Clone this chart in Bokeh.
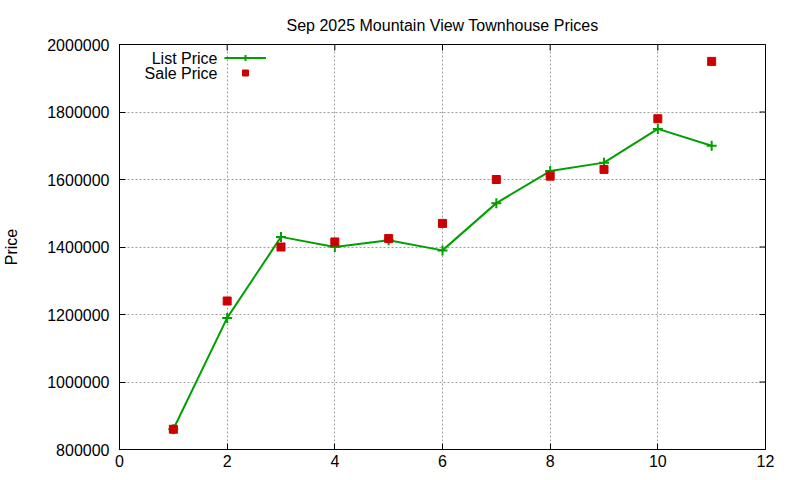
from math import pi

from bokeh.plotting import figure
from bokeh.models import FixedTicker, NumeralTickFormatter, Legend, LegendItem, Label, Range1d
from bokeh.embed import file_html
from bokeh.resources import INLINE

# data
month_day = [1, 2, 3, 4, 5, 6, 7, 8, 9, 10, 11]
list_price = [860000, 1190000, 1430000, 1400000, 1420000, 1390000,
              1530000, 1625000, 1650000, 1750000, 1700000]
sale_price = [860000, 1240000, 1400000, 1415000, 1425000, 1470000,
              1600000, 1610000, 1630000, 1780000, 1950000]
x_ticks = [0, 2, 4, 6, 8, 10, 12]
y_ticks = [800000, 1000000, 1200000, 1400000, 1600000, 1800000, 2000000]

FONT = "Liberation Sans"
GREEN = "#00a000"
RED = "#cc0000"

p = figure(width=800, height=480, title="Sep 2025 Mountain View Townhouse Prices",
           x_range=Range1d(x_ticks[0], x_ticks[-1]), y_range=Range1d(y_ticks[0], y_ticks[-1]),
           output_backend="svg", toolbar_location=None,
           min_border_left=119, min_border_right=35, min_border_top=44, min_border_bottom=31)

p.title.align = "center"
p.title.text_font = FONT
p.title.text_font_size = "16px"
p.title.text_font_style = "normal"
p.title.text_color = "black"
p.title.standoff = 21

p.outline_line_color = "black"
p.outline_line_width = 1

# axes: ticks inward, like gnuplot
for ax in [p.xaxis[0], p.yaxis[0]]:
    ax.major_tick_in = 6
    ax.major_tick_out = 0
    ax.minor_tick_line_color = None
    ax.axis_line_color = "black"
    ax.major_tick_line_color = "black"
    ax.major_label_text_font = FONT
    ax.major_label_text_font_size = "16px"
    ax.major_label_text_color = "black"

p.xaxis.ticker = FixedTicker(ticks=x_ticks)
p.yaxis.ticker = FixedTicker(ticks=y_ticks)
p.yaxis.formatter = NumeralTickFormatter(format="0")
p.xaxis.major_label_standoff = 5
p.yaxis.major_label_standoff = 10

p.yaxis.axis_label = "Price"
p.yaxis.axis_label_text_font = FONT
p.yaxis.axis_label_text_font_size = "16px"
p.yaxis.axis_label_text_font_style = "normal"
p.yaxis.axis_label_text_color = "black"
p.yaxis.axis_label_standoff = 24

p.grid.grid_line_color = "#a0a0a0"
p.grid.grid_line_dash = "2 2"
p.grid.grid_line_width = 1

# mirrored inward ticks on top and right (half of each dash is clipped by the frame)
p.scatter(x_ticks, [y_ticks[-1]] * len(x_ticks), marker="dash", angle=pi / 2, size=12,
          line_color="black", line_width=1)
p.scatter([x_ticks[-1]] * len(y_ticks), y_ticks, marker="dash", size=12,
          line_color="black", line_width=1)

l_line = p.line(month_day, list_price, line_color=GREEN, line_width=2)
l_pts = p.scatter(month_day, list_price, marker="cross", size=10, line_color=GREEN, line_width=2)
s_pts = p.scatter(month_day, sale_price, marker="square", size=8, fill_color=RED, line_color=RED)

legend = Legend(items=[LegendItem(label="", renderers=[l_line, l_pts]),
                       LegendItem(label="", renderers=[s_pts])],
                location=(105, 369), glyph_width=42, glyph_height=15,
                label_height=15, label_width=0, label_standoff=0,
                padding=0, spacing=0, margin=0,
                border_line_alpha=0, background_fill_alpha=0)
p.add_layout(legend, "center")

for txt, ypos in [("List Price", 391), ("Sale Price", 376)]:
    p.add_layout(Label(x=98, y=ypos, x_units="screen", y_units="screen", text=txt,
                       text_align="right", text_baseline="middle", text_font=FONT,
                       text_font_size="16px", text_color="black"))

open("out.html", "w").write(file_html(p, INLINE))
